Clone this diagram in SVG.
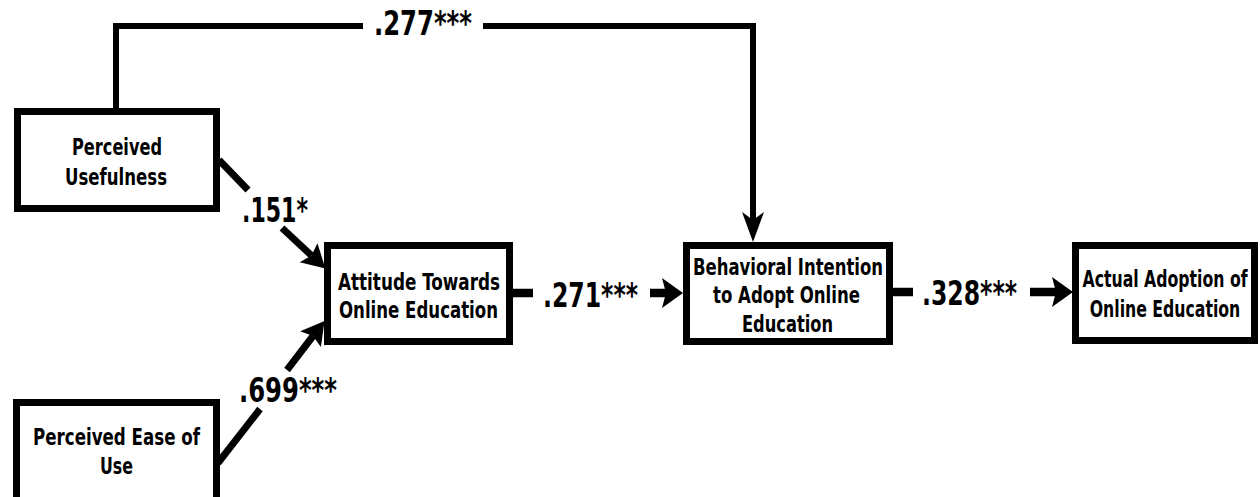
<svg xmlns="http://www.w3.org/2000/svg" width="1260" height="497" viewBox="0 0 1260 497">
<style>
.box{fill:#fff;stroke:#000;stroke-width:7}
.t{font-family:"DejaVu Sans Condensed","DejaVu Sans",sans-serif;font-weight:bold;font-size:23px;fill:#000}
.lbl{font-family:"DejaVu Sans Condensed","DejaVu Sans",sans-serif;font-weight:bold;font-size:33px;fill:#000}
.thin{fill:none;stroke:#000;stroke-width:6}
.mid{fill:none;stroke:#000;stroke-width:7}
.thick{fill:none;stroke:#000;stroke-width:8.5}
</style>
<defs>
<marker id="ah" markerUnits="userSpaceOnUse" viewBox="-1 -16 23 32" markerWidth="23" markerHeight="32" refX="4" refY="0" orient="auto">
<path d="M0,-15 L21,0 L0,15 L4,0 Z" fill="#000"/>
</marker>
<marker id="ahd" markerUnits="userSpaceOnUse" viewBox="-1 -15 25 30" markerWidth="25" markerHeight="30" refX="4" refY="0" orient="auto">
<path d="M0,-13 L23,0 L0,13 L4,0 Z" fill="#000"/>
</marker>
<marker id="ahv" markerUnits="userSpaceOnUse" viewBox="-1 -12 32 24" markerWidth="32" markerHeight="24" refX="8" refY="0" orient="auto">
<path d="M0,-11 L30,0 L0,11 L8,0 Z" fill="#000"/>
</marker>
</defs>
<g id="connectors">
<polyline class="thin" points="116,108 116,26 363,26"/>
<polyline class="thin" points="483,26 753,26 753,220" marker-end="url(#ahv)"/>
<line class="mid" x1="219" y1="160" x2="248" y2="190"/>
<line class="mid" x1="282" y1="228" x2="311.5" y2="255.5" marker-end="url(#ahd)"/>
<line class="mid" x1="218" y1="463" x2="260" y2="409"/>
<line class="mid" x1="287" y1="370" x2="313" y2="336" marker-end="url(#ahd)"/>
<line class="thick" x1="513" y1="293" x2="533" y2="293"/>
<line class="thick" x1="650" y1="293" x2="666" y2="293" marker-end="url(#ah)"/>
<line class="thick" x1="893" y1="292" x2="913" y2="292"/>
<line class="thick" x1="1030" y1="292" x2="1056" y2="292" marker-end="url(#ah)"/>
<text class="lbl" x="374" y="35" textLength="98" lengthAdjust="spacingAndGlyphs">.277***</text>
<text class="lbl" x="242" y="222" textLength="66" lengthAdjust="spacingAndGlyphs">.151*</text>
<text class="lbl" x="239" y="402" textLength="98" lengthAdjust="spacingAndGlyphs">.699***</text>
<text class="lbl" x="543" y="307" textLength="95" lengthAdjust="spacingAndGlyphs">.271***</text>
<text class="lbl" x="922" y="305" textLength="95" lengthAdjust="spacingAndGlyphs">.328***</text>
</g>
<g id="pu">
<rect class="box" x="17.5" y="111.5" width="199" height="97"/>
<text class="t" x="72" y="155" textLength="90" lengthAdjust="spacingAndGlyphs">Perceived</text>
<text class="t" x="65" y="185" textLength="102" lengthAdjust="spacingAndGlyphs">Usefulness</text>
</g>
<g id="peu">
<rect class="box" x="16.5" y="402.5" width="200" height="110"/>
<text class="t" x="33" y="445" textLength="167" lengthAdjust="spacingAndGlyphs">Perceived Ease of</text>
<text class="t" x="100" y="474" textLength="33" lengthAdjust="spacingAndGlyphs">Use</text>
</g>
<g id="att">
<rect class="box" x="327.5" y="245.5" width="182" height="96"/>
<text class="t" x="338" y="290" textLength="162" lengthAdjust="spacingAndGlyphs">Attitude Towards</text>
<text class="t" x="339" y="318" textLength="159" lengthAdjust="spacingAndGlyphs">Online Education</text>
</g>
<g id="bi">
<rect class="box" x="686.5" y="245.5" width="203" height="96"/>
<text class="t" x="693" y="275" textLength="190" lengthAdjust="spacingAndGlyphs">Behavioral Intention</text>
<text class="t" x="713" y="303" textLength="147" lengthAdjust="spacingAndGlyphs">to Adopt Online</text>
<text class="t" x="742" y="332" textLength="91" lengthAdjust="spacingAndGlyphs">Education</text>
</g>
<g id="aa">
<rect class="box" x="1075.5" y="245.5" width="179" height="95"/>
<text class="t" text-anchor="middle" transform="translate(1165,287) scale(0.76,1)">Actual Adoption of</text>
<text class="t" text-anchor="middle" transform="translate(1165,317) scale(0.76,1)">Online Education</text>
</g>
</svg>
